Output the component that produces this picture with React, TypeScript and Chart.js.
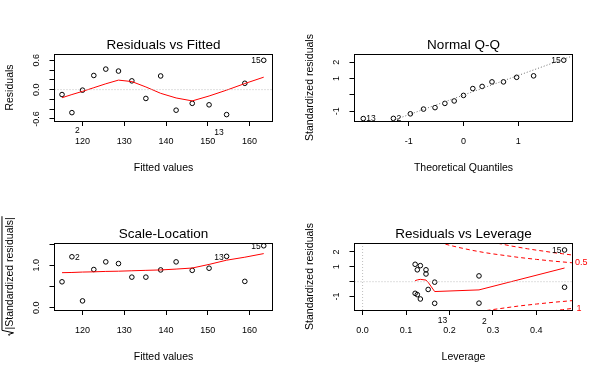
import React, { useEffect, useRef } from "react";
import { Chart, registerables } from "chart.js";

Chart.register(...registerables);

// ---------------- data ----------------
const obsIds = [1, 2, 3, 4, 5, 6, 7, 8, 9, 10, 11, 12, 13, 14, 15];
const fitted = [115.10, 117.47, 120.01, 122.71, 125.58, 128.62, 131.82, 135.18, 138.72, 142.42, 146.28, 150.31, 154.51, 158.87, 163.40];
const residuals = [-0.10, -0.47, -0.01, 0.29, 0.42, 0.38, 0.18, -0.18, 0.28, -0.42, -0.28, -0.31, -0.51, 0.13, 0.60];
const stdResiduals = [-0.37, -1.44, -0.03, 0.80, 1.17, 1.08, 0.52, -0.52, 0.80, -1.16, -0.78, -0.87, -1.45, 0.39, 2.13];
const sqrtAbsStdResiduals = [0.61, 1.20, 0.16, 0.90, 1.08, 1.04, 0.72, 0.72, 0.89, 1.08, 0.88, 0.93, 1.21, 0.62, 1.46];
const leverage = [0.465, 0.268, 0.166, 0.126, 0.121, 0.133, 0.146, 0.151, 0.146, 0.133, 0.121, 0.126, 0.166, 0.268, 0.465];
const theoreticalQuantiles = [-0.17, -1.28, 0.00, 0.73, 1.28, 0.97, 0.34, -0.34, 0.52, -0.97, -0.52, -0.73, -1.83, 0.17, 1.83];

// smoothers (red lines)
const rvfSmoothY = [-0.165, -0.10, -0.035, 0.04, 0.12, 0.195, 0.165, 0.055, -0.075, -0.17, -0.23, -0.13, -0.01, 0.125, 0.255];
const slSmoothY = [0.825, 0.83, 0.84, 0.845, 0.855, 0.86, 0.87, 0.88, 0.89, 0.91, 0.935, 1.02, 1.12, 1.19, 1.275];
const levSmoothX = [0.121, 0.126, 0.133, 0.146, 0.151, 0.166, 0.268, 0.465];
const levSmoothY = [0.07, 0.12, 0.16, 0.11, -0.04, -0.66, -0.55, 0.92];

// Q-Q reference line
const qqLineX = [-1.99, 1.99];
const qqLineY = [-2.41, 2.39];

// Cook's distance contours
const cookHalfH = [0.16, 0.17, 0.18, 0.19, 0.20, 0.22, 0.25, 0.28, 0.30, 0.33, 0.36, 0.40, 0.44, 0.4833];
const cookHalfUp = [2.81, 2.71, 2.61, 2.53, 2.45, 2.31, 2.12, 1.96, 1.87, 1.75, 1.63, 1.50, 1.38, 1.27];
const cookHalfDown = [-2.81, -2.71, -2.61, -2.53, -2.45, -2.31, -2.12, -1.96, -1.87, -1.75, -1.63, -1.50, -1.38, -1.27];
const cookOneH = [0.28, 0.30, 0.32, 0.34, 0.36, 0.38, 0.40, 0.42, 0.44, 0.46, 0.4833];
const cookOneUp = [2.78, 2.65, 2.53, 2.41, 2.31, 2.21, 2.12, 2.04, 1.95, 1.88, 1.79];
const cookOneDown = [-2.78, -2.65, -2.53, -2.41, -2.31, -2.21, -2.12, -2.04, -1.95, -1.88, -1.79];

// ticks
const fittedTicks = [120, 130, 140, 150, 160];
const rvfYTicks = [-0.6, -0.4, -0.2, 0, 0.2, 0.4, 0.6];
const rvfYLabelled = [-0.6, 0, 0.6];
const qqXTicks = [-1, 0, 1];
const stdYTicks = [-1, 0, 1, 2];
const stdYLabelled = [-1, 1, 2];
const slYTicks = [0, 0.5, 1, 1.5];
const slYLabelled = [0, 1];
const levXTicks = [0, 0.1, 0.2, 0.3, 0.4];

// ---------------- rendering ----------------
const FONT = '"Liberation Sans", Arial, Helvetica, sans-serif';

type XY = { x: number; y: number };
type PointLabel = { id: number; side: "left" | "right"; dy: number };
type LineSpec = { data: XY[]; color: string; dash?: number[] };
type PanelSpec = {
  title: string;
  xTitle: string;
  yTitle: string;
  sqrtY?: boolean;
  xRange: [number, number];
  yRange: [number, number];
  xTicks: number[];
  yTicks: number[];
  xFmt: (v: number) => string;
  yLabels: { value: number; text: string }[];
  points: XY[];
  pointLabels: PointLabel[];
  lines: LineSpec[];
  extra?: (chart: any) => void;
};

const zip = (xs: number[], ys: number[]): XY[] => xs.map((x, i) => ({ x, y: ys[i] }));

const panels: PanelSpec[] = [
  {
    title: "Residuals vs Fitted",
    xTitle: "Fitted values",
    yTitle: "Residuals",
    xRange: [113.3, 165.5],
    yRange: [-0.641, 0.729],
    xTicks: fittedTicks,
    yTicks: rvfYTicks,
    xFmt: (v) => String(v),
    yLabels: rvfYLabelled.map((v) => ({ value: v, text: v.toFixed(1) })),
    points: zip(fitted, residuals),
    pointLabels: [
      { id: 15, side: "left", dy: 0.5 },
      { id: 2, side: "right", dy: 18 },
      { id: 13, side: "left", dy: 18.5 },
    ],
    lines: [
      { data: zip([113.3, 165.5], [0, 0]), color: "#bebebe", dash: [1, 2] },
      { data: zip(fitted, rvfSmoothY), color: "#ff0000" },
    ],
  },
  {
    title: "Normal Q-Q",
    xTitle: "Theoretical Quantiles",
    yTitle: "Standardized residuals",
    xRange: [-1.99, 1.99],
    yRange: [-1.6, 2.51],
    xTicks: qqXTicks,
    yTicks: stdYTicks,
    xFmt: (v) => String(v),
    yLabels: stdYLabelled.map((v) => ({ value: v, text: String(v) })),
    points: zip(theoreticalQuantiles, stdResiduals),
    pointLabels: [
      { id: 13, side: "right", dy: 0.5 },
      { id: 2, side: "right", dy: 0.5 },
      { id: 15, side: "left", dy: 0.5 },
    ],
    lines: [{ data: zip(qqLineX, qqLineY), color: "#6e6e6e", dash: [1, 2] }],
  },
  {
    title: "Scale-Location",
    xTitle: "Fitted values",
    yTitle: "|Standardized residuals|",
    sqrtY: true,
    xRange: [113.3, 165.5],
    yRange: [-0.055, 1.525],
    xTicks: fittedTicks,
    yTicks: slYTicks,
    xFmt: (v) => String(v),
    yLabels: slYLabelled.map((v) => ({ value: v, text: v.toFixed(1) })),
    points: zip(fitted, sqrtAbsStdResiduals),
    pointLabels: [
      { id: 2, side: "right", dy: 0.5 },
      { id: 13, side: "left", dy: 0.8 },
      { id: 15, side: "left", dy: 0.8 },
    ],
    lines: [{ data: zip(fitted, slSmoothY), color: "#ff0000" }],
  },
  {
    title: "Residuals vs Leverage",
    xTitle: "Leverage",
    yTitle: "Standardized residuals",
    xRange: [-0.0186, 0.4833],
    yRange: [-1.9, 2.6],
    xTicks: levXTicks,
    yTicks: stdYTicks,
    xFmt: (v) => v.toFixed(1),
    yLabels: stdYLabelled.map((v) => ({ value: v, text: String(v) })),
    points: zip(leverage, stdResiduals),
    pointLabels: [
      { id: 15, side: "left", dy: 0.5 },
      { id: 13, side: "right", dy: 17.6 },
      { id: 2, side: "right", dy: 18.3 },
    ],
    lines: [
      { data: zip([-0.0186, 0.4833], [0, 0]), color: "#bebebe", dash: [1, 2] },
      { data: zip([0, 0], [-1.9, 2.6]), color: "#bebebe", dash: [1, 2] },
      { data: zip(levSmoothX, levSmoothY), color: "#ff0000" },
      { data: zip(cookHalfH, cookHalfUp), color: "#ff0000", dash: [4, 3] },
      { data: zip(cookHalfH, cookHalfDown), color: "#ff0000", dash: [4, 3] },
      { data: zip(cookOneH, cookOneUp), color: "#ff0000", dash: [4, 3] },
      { data: zip(cookOneH, cookOneDown), color: "#ff0000", dash: [4, 3] },
    ],
    extra: (chart: any) => {
      const ctx = chart.ctx;
      const ys = chart.scales.y;
      const ca = chart.chartArea;
      ctx.fillStyle = "#ff0000";
      ctx.font = `9px ${FONT}`;
      ctx.textAlign = "left";
      ctx.textBaseline = "middle";
      ctx.fillText("0.5", ca.right + 2.5, ys.getPixelForValue(cookHalfUp[cookHalfUp.length - 1]));
      ctx.fillText("1", ca.right + 4, ys.getPixelForValue(cookOneDown[cookOneDown.length - 1]));
    },
  },
];

function makeConfig(spec: PanelSpec): any {
  const datasets: any[] = [];
  spec.lines.forEach((l) => {
    datasets.push({
      data: l.data,
      showLine: true,
      borderColor: l.color,
      borderWidth: 1,
      borderDash: l.dash || [],
      pointRadius: 0,
      tension: 0,
      fill: false,
    });
  });
  datasets.push({
    data: spec.points,
    showLine: false,
    pointRadius: 2.3,
    pointBorderWidth: 1,
    pointBorderColor: "#000",
    pointBackgroundColor: "rgba(0,0,0,0)",
    pointStyle: "circle",
  });

  const panelPlugin = {
    id: "panelDecor",
    afterDraw(chart: any) {
      const ctx = chart.ctx;
      const ca = chart.chartArea;
      const xs = chart.scales.x;
      const ys = chart.scales.y;
      ctx.save();
      // box
      ctx.strokeStyle = "#000";
      ctx.lineWidth = 1;
      ctx.setLineDash([]);
      ctx.strokeRect(ca.left, ca.top + 0.5, ca.right - ca.left, ca.bottom - ca.top);

      ctx.fillStyle = "#000";
      // title
      ctx.font = `13.5px ${FONT}`;
      ctx.textAlign = "center";
      ctx.textBaseline = "alphabetic";
      const cx = (ca.left + ca.right) / 2;
      ctx.fillText(spec.title, cx, 49);
      // x title
      ctx.font = `10.5px ${FONT}`;
      ctx.fillText(spec.xTitle, cx, 171);
      // y title (rotated)
      const cy = (ca.top + ca.bottom) / 2;
      ctx.save();
      ctx.translate(13, cy);
      ctx.rotate(-Math.PI / 2);
      ctx.font = `10.5px ${FONT}`;
      if (spec.sqrtY) {
        const e = 10.5;
        const w = ctx.measureText(spec.yTitle).width;
        const rad = 0.6 * e;
        const total = rad + w;
        const sx = -total / 2;
        ctx.textAlign = "left";
        ctx.fillText(spec.yTitle, sx + rad, 0);
        ctx.strokeStyle = "#000";
        ctx.lineWidth = 1;
        ctx.beginPath();
        ctx.moveTo(sx, -0.35 * e);
        ctx.lineTo(sx + 0.12 * e, -0.42 * e);
        ctx.lineTo(sx + 0.28 * e, 0.05 * e);
        ctx.lineTo(sx + 0.52 * e, -1.05 * e);
        ctx.lineTo(sx + total + 1, -1.05 * e);
        ctx.stroke();
      } else {
        ctx.textAlign = "center";
        ctx.fillText(spec.yTitle, 0, 0);
      }
      ctx.restore();

      // y tick labels (rotated, R style)
      ctx.font = `9px ${FONT}`;
      spec.yLabels.forEach((lab) => {
        const py = ys.getPixelForValue(lab.value);
        ctx.save();
        ctx.translate(39, py);
        ctx.rotate(-Math.PI / 2);
        ctx.textAlign = "center";
        ctx.textBaseline = "alphabetic";
        ctx.fillText(lab.text, 0, 0);
        ctx.restore();
      });

      // point id labels
      ctx.font = `8.5px ${FONT}`;
      ctx.textBaseline = "middle";
      spec.pointLabels.forEach((pl) => {
        const i = obsIds.indexOf(pl.id);
        const p = spec.points[i];
        const px = xs.getPixelForValue(p.x);
        const py = ys.getPixelForValue(p.y);
        if (pl.side === "left") {
          ctx.textAlign = "right";
          ctx.fillText(String(pl.id), px - 3, py + pl.dy);
        } else {
          ctx.textAlign = "left";
          ctx.fillText(String(pl.id), px + 3, py + pl.dy);
        }
      });

      if (spec.extra) spec.extra(chart);
      ctx.restore();
    },
  };

  const gridOpts = {
    display: true,
    drawOnChartArea: false,
    drawTicks: true,
    tickLength: 5,
    color: "#000",
    tickColor: "#000",
    lineWidth: 1,
  };

  return {
    type: "scatter",
    data: { datasets },
    plugins: [panelPlugin],
    options: {
      animation: false,
      responsive: false,
      devicePixelRatio: 1,
      events: [],
      layout: { padding: { left: 0, top: 54, right: 27.5, bottom: 0 } },
      plugins: { legend: { display: false }, tooltip: { enabled: false }, title: { display: false } },
      scales: {
        x: {
          type: "linear",
          min: spec.xRange[0],
          max: spec.xRange[1],
          afterBuildTicks: (s: any) => {
            s.ticks = spec.xTicks.map((v) => ({ value: v }));
          },
          afterFit: (s: any) => {
            s.height = 68;
          },
          grid: gridOpts,
          border: { display: false },
          ticks: {
            autoSkip: false,
            maxRotation: 0,
            minRotation: 0,
            padding: 10.5,
            color: "#000",
            font: { family: FONT, size: 9 },
            callback: (v: any) => spec.xFmt(Number(v)),
          },
        },
        y: {
          type: "linear",
          min: spec.yRange[0],
          max: spec.yRange[1],
          afterBuildTicks: (s: any) => {
            s.ticks = spec.yTicks.map((v) => ({ value: v }));
          },
          afterFit: (s: any) => {
            s.width = 54.5;
          },
          grid: gridOpts,
          border: { display: false },
          ticks: {
            autoSkip: false,
            padding: 0,
            font: { family: FONT, size: 9 },
            callback: () => "",
          },
        },
      },
    },
  };
}

function Panel({ spec, left, top }: { spec: PanelSpec; left: number; top: number }) {
  const ref = useRef<HTMLCanvasElement | null>(null);
  useEffect(() => {
    if (!ref.current) return;
    const chart = new Chart(ref.current, makeConfig(spec));
    return () => chart.destroy();
  }, [spec]);
  return (
    <canvas
      ref={ref}
      width={300}
      height={189}
      style={{ position: "absolute", left, top, width: 300, height: 189 }}
    />
  );
}

export default function App() {
  return (
    <div style={{ position: "relative", width: 600, height: 378, background: "#fff", overflow: "hidden" }}>
      <style>{`body{margin:0;background:#fff;}`}</style>
      {panels.map((p, i) => (
        <Panel key={i} spec={p} left={(i % 2) * 300} top={Math.floor(i / 2) * 189} />
      ))}
    </div>
  );
}
